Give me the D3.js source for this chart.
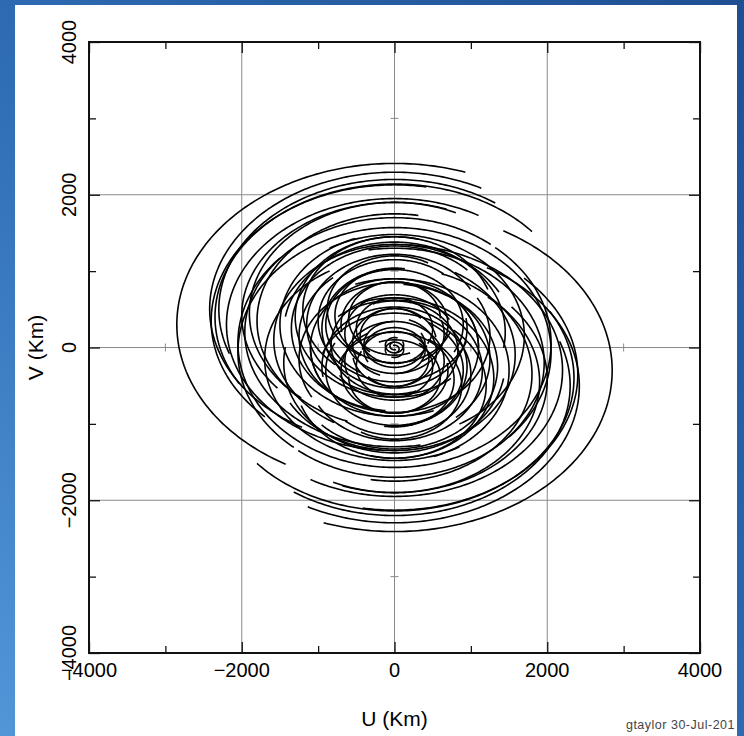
<!DOCTYPE html>
<html>
<head>
<meta charset="utf-8">
<script src="https://cdn.jsdelivr.net/npm/d3@7"></script>
<style>
  body { margin: 0; padding: 0; overflow: hidden; }
  svg { display: block; }
  text { font-family: "Liberation Sans", Arial, sans-serif; }
</style>
</head>
<body>
<svg id="uv"></svg>
<script>
// uv tracks as ellipse arcs: u = a*sin(t), v = c + b*cos(t), t in degrees (0 = top).
// every track is drawn together with its conjugate (-u, -v)
const trackA     = [2850, 2420, 2400, 2350, 2300, 2200, 2050, 2000, 1960, 1900, 1800, 1700, 1580, 1500, 1450, 1350, 1300, 1250, 1200, 1150, 1100, 1000,  950,  900,  880,  830,  780,  700,  650,  600,  550,  500,  450,  400,  120,   60]
const trackB     = [2110, 1790, 1780, 1740, 1700, 1650, 1630, 1480, 1500, 1450, 1400, 1330, 1250, 1200, 1180, 1080, 1050, 1000,  950,  920,  900,  800,  780,  720,  700,  650,  620,  560,  520,  480,  450,  400,  360,  300,  100,   50]
const trackC     = [ 300,  505,  350,  400,  500,  300,   60,  420,  200,  450,  350,  150,  100,  300,  200,  250,  400,  150,  500,  300,    0,  350,  250,  300,  500,   40,  420,  300,  180,  380,   60,  250,  150,   40,   30,   20]
const trackStart = [  19,   28,   10,   50,   35,   30,  -47,   20,   40,   25,   10,  150,   60,  -20,  100,   45,   70,  -40,   15,   60,   90,   40,    0,  120,   30,   60,   10,  150,  -30,   90,   80,  120,   50,    0,   20,    0]
const trackEnd   = [-150, -150, -135, -120, -110, -175, -320, -130, -190, -140, -160,  -30, -150, -200,  -80, -175, -200, -300, -140, -220, -140, -250, -280, -150, -150, -200, -250, -100, -290, -200, -160, -140, -250, -300, -300, -200]

const majorTicks = [-4000, -2000, 0, 2000, 4000]
const minorTicks = [-3000, -1000, 1000, 3000]
const gridValues = [-2000, 0, 2000]

const chart = { width: 744, height: 736 }
const frame = { left: 89, right: 700, top: 42, bottom: 653 }

const svg = d3.select("#uv")
    .attr("width", chart.width)
    .attr("height", chart.height)

// blue slide background + white panel
const grad = svg.append("defs").append("linearGradient")
    .attr("id", "bg")
    .attr("x1", "100%").attr("y1", "0%")
    .attr("x2", "0%").attr("y2", "100%")
grad.append("stop").attr("offset", "0%").attr("stop-color", "#1f4f92")
grad.append("stop").attr("offset", "55%").attr("stop-color", "#2f6db5")
grad.append("stop").attr("offset", "100%").attr("stop-color", "#5296d8")

svg.append("rect")
    .attr("width", chart.width).attr("height", chart.height)
    .attr("fill", "url(#bg)")

svg.append("rect")
    .attr("x", 15).attr("y", 5).attr("width", 722).attr("height", 731)
    .attr("fill", "white")

const x = d3.scaleLinear().domain([-4000, 4000]).range([frame.left, frame.right])
const y = d3.scaleLinear().domain([-4000, 4000]).range([frame.bottom, frame.top])

// grid
svg.append("g").selectAll("line")
    .data(gridValues).enter().append("line")
    .attr("x1", d => x(d)).attr("x2", d => x(d))
    .attr("y1", frame.top).attr("y2", frame.bottom)
    .attr("stroke", "#8a8a8a").attr("stroke-width", 1)
svg.append("g").selectAll("line")
    .data(gridValues).enter().append("line")
    .attr("y1", d => y(d)).attr("y2", d => y(d))
    .attr("x1", frame.left).attr("x2", frame.right)
    .attr("stroke", "#8a8a8a").attr("stroke-width", 1)

// small ticks on the zero lines
svg.append("g").selectAll("line")
    .data(minorTicks).enter().append("line")
    .attr("x1", x(0) - 4).attr("x2", x(0) + 4)
    .attr("y1", d => y(d)).attr("y2", d => y(d))
    .attr("stroke", "#8a8a8a")
svg.append("g").selectAll("line")
    .data(minorTicks).enter().append("line")
    .attr("y1", y(0) - 4).attr("y2", y(0) + 4)
    .attr("x1", d => x(d)).attr("x2", d => x(d))
    .attr("stroke", "#8a8a8a")

// tracks
const line = d3.line()
    .x(d => x(d[0]))
    .y(d => y(d[1]))

const tracks = []
trackA.forEach((a, i) => {
    const pts = [], conj = []
    const t0 = trackStart[i], t1 = trackEnd[i]
    const n = Math.ceil(Math.abs(t1 - t0))
    for (let k = 0; k <= n; k++) {
        const t = (t0 + (t1 - t0) * k / n) * Math.PI / 180
        const u = a * Math.sin(t)
        const v = trackC[i] + trackB[i] * Math.cos(t)
        pts.push([u, v])
        conj.push([-u, -v])
    }
    tracks.push(pts, conj)
})

svg.append("g")
    .selectAll("path")
    .data(tracks).enter().append("path")
    .attr("d", line)
    .attr("fill", "none")
    .attr("stroke", "#000")
    .attr("stroke-width", 1.6)

// ticks on all four sides
function addAxis(axis, transform, size, values) {
    const g = svg.append("g")
        .attr("transform", transform)
        .call(axis.tickValues(values).tickSize(size).tickFormat(""))
    g.select(".domain").remove()
    g.selectAll(".tick line").attr("stroke", "#111").attr("stroke-width", 1.3)
}
const sides = [
    [() => d3.axisBottom(x), "translate(0," + frame.bottom + ")"],
    [() => d3.axisTop(x), "translate(0," + frame.top + ")"],
    [() => d3.axisLeft(y), "translate(" + frame.left + ",0)"],
    [() => d3.axisRight(y), "translate(" + frame.right + ",0)"]
]
sides.forEach(s => {
    addAxis(s[0](), s[1], -11, majorTicks)
    addAxis(s[0](), s[1], -7, minorTicks)
})

svg.append("rect")
    .attr("x", frame.left).attr("y", frame.top)
    .attr("width", frame.right - frame.left)
    .attr("height", frame.bottom - frame.top)
    .attr("fill", "none")
    .attr("stroke", "#111")
    .attr("stroke-width", 2)

// tick labels
const fmt = d => d < 0 ? "\u2212" + Math.abs(d) : d

svg.append("g").selectAll("text")
    .data(majorTicks).enter().append("text")
    .attr("x", d => x(d))
    .attr("y", 677)
    .attr("text-anchor", "middle")
    .attr("font-size", 20)
    .text(fmt)

svg.append("g").selectAll("text")
    .data(majorTicks).enter().append("text")
    .attr("transform", d => "translate(76," + y(d) + ") rotate(-90)")
    .attr("text-anchor", "middle")
    .attr("font-size", 20)
    .text(fmt)

svg.append("text")
    .attr("x", x(0)).attr("y", 726)
    .attr("text-anchor", "middle")
    .attr("font-size", 21)
    .text("U (Km)")

svg.append("text")
    .attr("transform", "translate(43," + y(0) + ") rotate(-90)")
    .attr("text-anchor", "middle")
    .attr("font-size", 21)
    .text("V (Km)")

svg.append("text")
    .attr("x", 735).attr("y", 729)
    .attr("text-anchor", "end")
    .attr("font-size", 12.5)
    .attr("letter-spacing", 0.5)
    .attr("fill", "#444")
    .text("gtaylor 30-Jul-201")
</script>
</body>
</html>
